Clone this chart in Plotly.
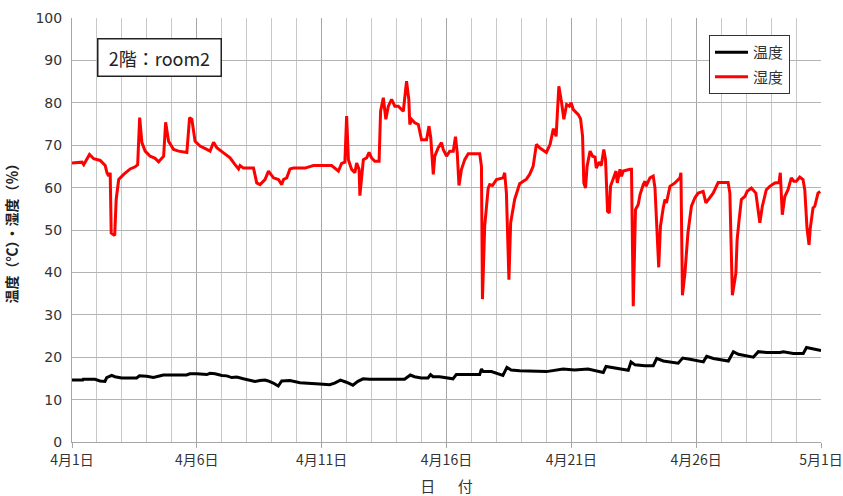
import plotly.graph_objects as go

# day offset from 4月1日
hum_day = [0, 0.4, 0.47, 0.7, 0.87, 1.13, 1.33, 1.4, 1.47, 1.53, 1.57, 1.71, 1.77, 1.87, 2.07, 2.33, 2.53, 2.63,
           2.71, 2.8, 2.93, 3.13, 3.33, 3.47, 3.67, 3.75, 3.87, 4.07, 4.27, 4.6, 4.71, 4.8, 4.93, 5.13, 5.4, 5.53,
           5.67, 5.8, 6.07, 6.33, 6.53, 6.67, 6.73, 6.87, 7.27, 7.4, 7.53, 7.67, 7.73, 7.87, 8.07, 8.27, 8.4, 8.47,
           8.6, 8.73, 8.87, 9.33, 9.53, 9.67, 10.4, 10.67, 10.8, 10.93,
           11.0, 11.07, 11.2, 11.33, 11.4, 11.5, 11.53, 11.67, 11.8, 11.9, 12.0, 12.13, 12.3,
           12.36, 12.47, 12.53, 12.57, 12.67, 12.8, 12.93, 13.07, 13.27, 13.4, 13.49, 13.53, 13.6, 13.73, 13.87,
           14.0, 14.2, 14.3, 14.37, 14.47, 14.53, 14.67, 14.8, 14.87, 15.0, 15.13, 15.27, 15.36, 15.43,
           15.5, 15.6, 15.73, 15.87, 16.33, 16.4, 16.44, 16.53, 16.67, 16.73, 16.84, 17.0, 17.27, 17.33, 17.4,
           17.5, 17.57, 17.73, 17.93, 18.2, 18.33, 18.47, 18.6, 18.73, 19.0, 19.15, 19.28, 19.39,
           19.5, 19.61, 19.7, 19.81, 19.92, 19.99, 20.08, 20.28, 20.37, 20.45, 20.5, 20.57, 20.63, 20.75, 20.85,
           20.95, 21.0, 21.11, 21.2, 21.3, 21.37, 21.45, 21.52, 21.57, 21.68, 21.79, 21.84, 21.95, 22.01, 22.08,
           22.35, 22.41, 22.48, 22.57, 22.68, 22.75, 22.88, 22.95, 22.99, 23.15, 23.28, 23.35,
           23.5, 23.57, 23.68, 23.75, 23.81, 23.95, 24.15, 24.35, 24.39,
           24.45, 24.55, 24.6, 24.67, 24.81, 24.95, 25.08, 25.28, 25.39, 25.55, 25.68, 25.88, 26.28, 26.35,
           26.41, 26.45, 26.59, 26.64, 26.72, 26.81, 26.95, 27.04, 27.21, 27.39, 27.55, 27.65, 27.81, 27.95, 28.15,
           28.32, 28.37, 28.45, 28.55, 28.68, 28.81, 28.91, 29.01, 29.15, 29.28, 29.35, 29.44, 29.52, 29.57,
           29.68, 29.75, 29.88, 29.97]
hum_val = [65.8, 66.0, 65.4, 67.8, 66.8, 66.4, 65.2, 63.5, 62.7, 63.5, 49.3, 48.7, 57.2, 61.9, 63.1, 64.4, 64.9, 65.4,
           76.5, 70.6, 68.6, 67.4, 66.9, 66.1, 67.4, 75.4, 70.9, 69.0, 68.6, 68.3, 76.5, 76.1, 70.9, 69.8, 69.0, 68.6,
           70.7, 69.4, 68.2, 67.0, 65.4, 64.4, 65.2, 64.6, 64.6, 61.1, 60.7, 61.5, 61.9, 63.9, 62.3, 61.9, 60.7, 61.9,
           62.3, 64.4, 64.6, 64.6, 64.9, 65.2, 65.2, 63.9, 65.7, 66.0,
           76.9, 66.6, 64.3, 63.5, 65.8, 64.3, 58.1, 66.6, 67.0, 68.3, 67.0, 66.2, 66.2,
           78.0, 81.2, 78.8, 76.1, 79.2, 80.8, 79.2, 79.2, 78.0, 85.1, 80.8, 74.9, 76.1, 75.3, 74.9,
           71.3, 71.3, 74.5, 71.7, 63.1, 67.4, 69.4, 70.6, 69.0, 67.4, 68.6, 68.6, 72.0, 68.2,
           60.5, 64.3, 66.6, 68.0, 68.0, 65.0, 33.7, 50.9, 59.9, 60.7, 60.5, 61.9, 62.3, 63.5, 58.7,
           38.3, 51.7, 57.2, 60.9, 62.0, 63.1, 65.0, 70.2, 69.4, 68.3, 70.2, 73.9, 72.1,
           83.9, 80.0, 76.1, 79.6, 79.2, 80.0, 78.4, 77.2, 76.2, 72.1, 61.1, 59.9, 65.0, 68.6, 67.4,
           67.2, 64.6, 66.0, 65.2, 69.0, 66.6, 54.4, 54.0, 60.3, 62.3, 63.9, 61.1, 64.3, 62.7, 63.9,
           64.3, 64.3, 32.0, 54.8, 56.0, 58.3, 60.7, 61.5, 60.3, 62.3, 62.7, 59.9,
           41.2, 50.9, 55.2, 57.2, 56.4, 60.3, 61.1, 62.3, 63.5,
           34.6, 39.8, 43.0, 49.3, 55.6, 57.6, 58.7, 59.1, 56.4, 57.6, 58.7, 61.2, 61.2, 58.7,
           45.4, 34.6, 39.8, 47.7, 52.4, 57.2, 57.9, 59.1, 59.9, 58.7, 51.7, 55.6, 59.5, 60.3, 61.1,
           61.2, 63.5, 53.6, 57.9, 59.5, 62.3, 61.5, 61.5, 62.5, 61.9, 59.5, 50.4, 46.5, 50.4,
           55.2, 55.6, 58.7, 59.1]

tmp_day = [0, 0.43, 0.45, 0.92, 1.12, 1.32, 1.39, 1.59, 1.72, 1.99, 2.59, 2.7, 2.99, 3.26, 3.46, 3.66, 4.59, 4.72,
           5.0, 5.4, 5.53, 5.73, 6.0, 6.2, 6.4, 6.6, 6.86, 7.06, 7.33, 7.53, 7.73, 7.86, 8.06, 8.26, 8.4, 8.73,
           9.13, 9.92, 10.32, 10.52, 10.75, 10.99, 11.25, 11.45, 11.66, 11.92, 13.32, 13.55, 13.72, 13.99, 14.26,
           14.36, 14.46, 14.72, 14.99, 15.26, 15.39, 16.33, 16.4, 16.47, 16.8, 17.0, 17.26, 17.42, 17.59, 17.93,
           19.0, 19.67, 20.13, 20.67, 21.15, 21.28, 21.39, 21.82, 22.28, 22.39, 22.55, 22.95, 23.28, 23.42,
           23.68, 24.28, 24.46, 24.75, 25.29, 25.42, 25.69, 26.29, 26.49, 26.69, 27.29, 27.49, 27.82, 28.36,
           28.49, 28.89, 29.29, 29.42, 29.69, 30.0]
tmp_val = [14.6, 14.6, 14.8, 14.8, 14.4, 14.3, 15.2, 15.7, 15.4, 15.1, 15.1, 15.6, 15.5, 15.2, 15.5, 15.8, 15.8, 16.1,
           16.1, 15.9, 16.2, 16.1, 15.7, 15.6, 15.2, 15.3, 14.9, 14.6, 14.3, 14.5, 14.6, 14.4, 13.9, 13.2, 14.4, 14.5,
           14.0, 13.7, 13.5, 13.9, 14.6, 14.1, 13.4, 14.3, 14.9, 14.8, 14.8, 15.8, 15.4, 15.1, 15.1,
           15.9, 15.4, 15.4, 15.2, 14.9, 15.9, 15.9, 17.2, 16.6, 16.6, 16.2, 15.7, 17.6, 17.0, 16.8,
           16.6, 17.2, 17.0, 17.2, 16.7, 16.4, 17.8, 17.4, 16.9, 18.9, 18.2, 18.0, 18.0, 19.7,
           19.1, 18.6, 19.8, 19.5, 18.9, 20.2, 19.7, 19.1, 21.3, 20.7, 20.0, 21.3, 21.1, 21.1,
           21.3, 20.9, 20.9, 22.3, 21.9, 21.6]

tick_vals = [0, 5, 10, 15, 20, 25, 30]
tick_text = ["4月1日", "4月6日", "4月11日", "4月16日", "4月21日", "4月26日", "5月1日"]

FONT = "DejaVu Sans, Noto Sans CJK JP"
CJK = "Noto Sans CJK JP"

fig = go.Figure()
fig.add_trace(go.Scatter(x=tmp_day, y=tmp_val, mode="lines", name="温度", legendgroup="t",
                         line=dict(color="black", width=3)))
fig.add_trace(go.Scatter(x=hum_day, y=hum_val, mode="lines", name="湿度", legendgroup="h",
                         line=dict(color="#ff0000", width=3)))

fig.update_layout(
    width=843, height=496,
    margin=dict(l=72, r=22, t=18, b=54, autoexpand=False),
    paper_bgcolor="white", plot_bgcolor="white",
    font=dict(family=FONT, size=14, color="#333333"),
    showlegend=True,
    legend=dict(x=(709 - 72) / 749, y=(442 - 35) / 424, xanchor="left", yanchor="top",
                bordercolor="#333333", borderwidth=1, bgcolor="white",
                font=dict(family=CJK, size=15, color="#333333"),
                itemwidth=33, tracegroupgap=2, traceorder="grouped"),
    xaxis=dict(range=[0, 30], tickmode="array", tickvals=tick_vals, ticktext=tick_text,
               showgrid=True, gridcolor="#a6a6a6", gridwidth=1,
               minor=dict(dtick=1, tick0=0, showgrid=True, gridcolor="#c8c8c8", gridwidth=1),
               ticks="outside", ticklen=5, tickcolor="#a6a6a6",
               showline=True, linecolor="#a6a6a6", linewidth=1, automargin=False,
               ticklabeloverflow="allow",
               zeroline=False, tickfont=dict(family=CJK, size=14, color="#333333"),
               title=dict(text="日\u3000\u2002付", font=dict(family=CJK, size=15, color="#333333"),
                          standoff=14)),
    yaxis=dict(range=[0, 100], dtick=10, showgrid=True, gridcolor="#b4b4b4", gridwidth=1,
               showline=True, linecolor="#a6a6a6", linewidth=1, zeroline=False, automargin=False,
               ticks="", ticklabelstandoff=6, tickfont=dict(family=FONT, size=14, color="#333333"),
               title=dict(text="<b>温度（℃）・湿度（％）</b>", font=dict(family=CJK, size=14, color="#222222"),
                          standoff=14)),
)

fig.add_annotation(xref="paper", yref="paper", x=(97 - 72) / 749, y=(442 - 38) / 424,
                   xanchor="left", yanchor="top", text="2階：room2", showarrow=False,
                   font=dict(family=CJK, size=18, color="#222222"),
                   bordercolor="#222222", borderwidth=1.5, borderpad=6, bgcolor="white",
                   width=110, height=24)

fig.write_html("out.html", config={"displayModeBar": False},
               post_script="document.body.style.margin='0';")
